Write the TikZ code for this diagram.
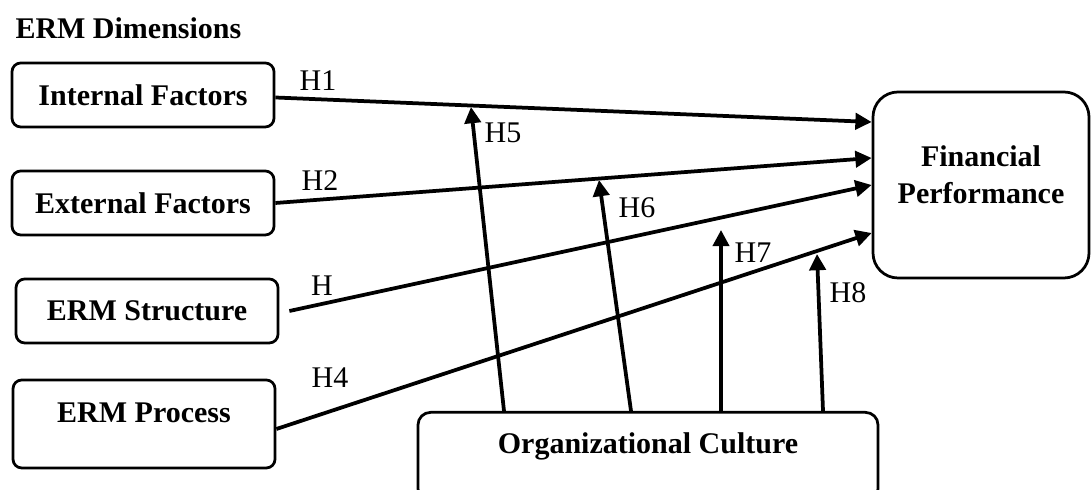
\documentclass[tikz,border=0pt]{standalone}
\usepackage{fontspec}
\setmainfont{Liberation Serif}
\usepackage{tikz}
\usetikzlibrary{positioning}
\usetikzlibrary{arrows.meta}

\begin{document}
\begin{tikzpicture}[x=0.4pt, y=-0.4pt, font=\fontsize{12}{14.4}\selectfont,
    dimnode/.style={rectangle, draw, line width=1.1pt, rounded corners=3.5pt,
      minimum width=104.8pt, minimum height=25.6pt, font=\fontsize{12}{14.4}\selectfont\bfseries},
    bignode/.style={rectangle, draw, line width=1.1pt, rounded corners=10pt,
      align=center, font=\fontsize{12}{14.8}\selectfont\bfseries},
    hyp/.style={-{Triangle[length=6.5pt,width=6.5pt]}, line width=1.5pt},
    hlabel/.style={inner sep=0pt}, ]
    \useasboundingbox (0,0) rectangle (1091,490);
    % Nodes
    \node[anchor=base west, inner sep=0pt, font=\fontsize{12}{14.4}\selectfont\bfseries] (title) at (15,39) {ERM Dimensions};
    \node[dimnode] (internal) at (143,95) {Internal Factors};
    \node[dimnode] (external) at (143,203) {External Factors};
    \node[dimnode] (structure) at (147,311) {ERM Structure};
    \node[dimnode, minimum height=35.2pt, inner ysep=0pt, text height=17.2pt, text depth=18pt]
    (process) at (144,424) {ERM Process};
    \node[bignode, minimum width=86.4pt, minimum height=74.4pt, inner ysep=0pt, text depth=8.4pt] (finperf) at (981,185) {Financial\\Performance};
    \node[bignode, rounded corners=5pt, minimum width=184pt, inner ysep=0pt, text height=16.4pt,
    text depth=19.2pt] (orgculture) at (648,411) [anchor=north] {Organizational Culture};
    % Labels
    \node[hlabel] (h1) at (318,81) {H1}; \node[hlabel] (h2) at (320,181) {H2};
    \node[hlabel] (h3) at (322,286) {H}; \node[hlabel] (h4) at (330,378) {H4};
    \node[hlabel] (h5) at (503,133) {H5}; \node[hlabel] (h6) at (637,208) {H6};
    \node[hlabel] (h7) at (753,253) {H7}; \node[hlabel] (h8) at (848,293) {H8};
    % Moderation points
    \coordinate (m5) at (471,107); \coordinate (m6) at (599,180);
    \coordinate (m7) at (721,230); \coordinate (m8) at (817,254);
    % Lines
    \draw[hyp] ([yshift=-1pt]internal.east) -- (finperf.west |- 0,122);
    \draw[hyp] (external.east) -- (finperf.west |- 0,158);
    \draw[hyp] ([xshift=4pt]structure.east) -- (finperf.west |- 0,185);
    \draw[hyp] ([yshift=-2pt]process.east) -- (finperf.west |- 0,233);
    \draw[hyp] (orgculture.north -| 504,0) -- (m5);
    \draw[hyp] (orgculture.north -| 631,0) -- (m6);
    \draw[hyp] (orgculture.north -| 721,0) -- (m7);
    \draw[hyp] (orgculture.north -| 823,0) -- (m8);
  \end{tikzpicture}
\end{document}
